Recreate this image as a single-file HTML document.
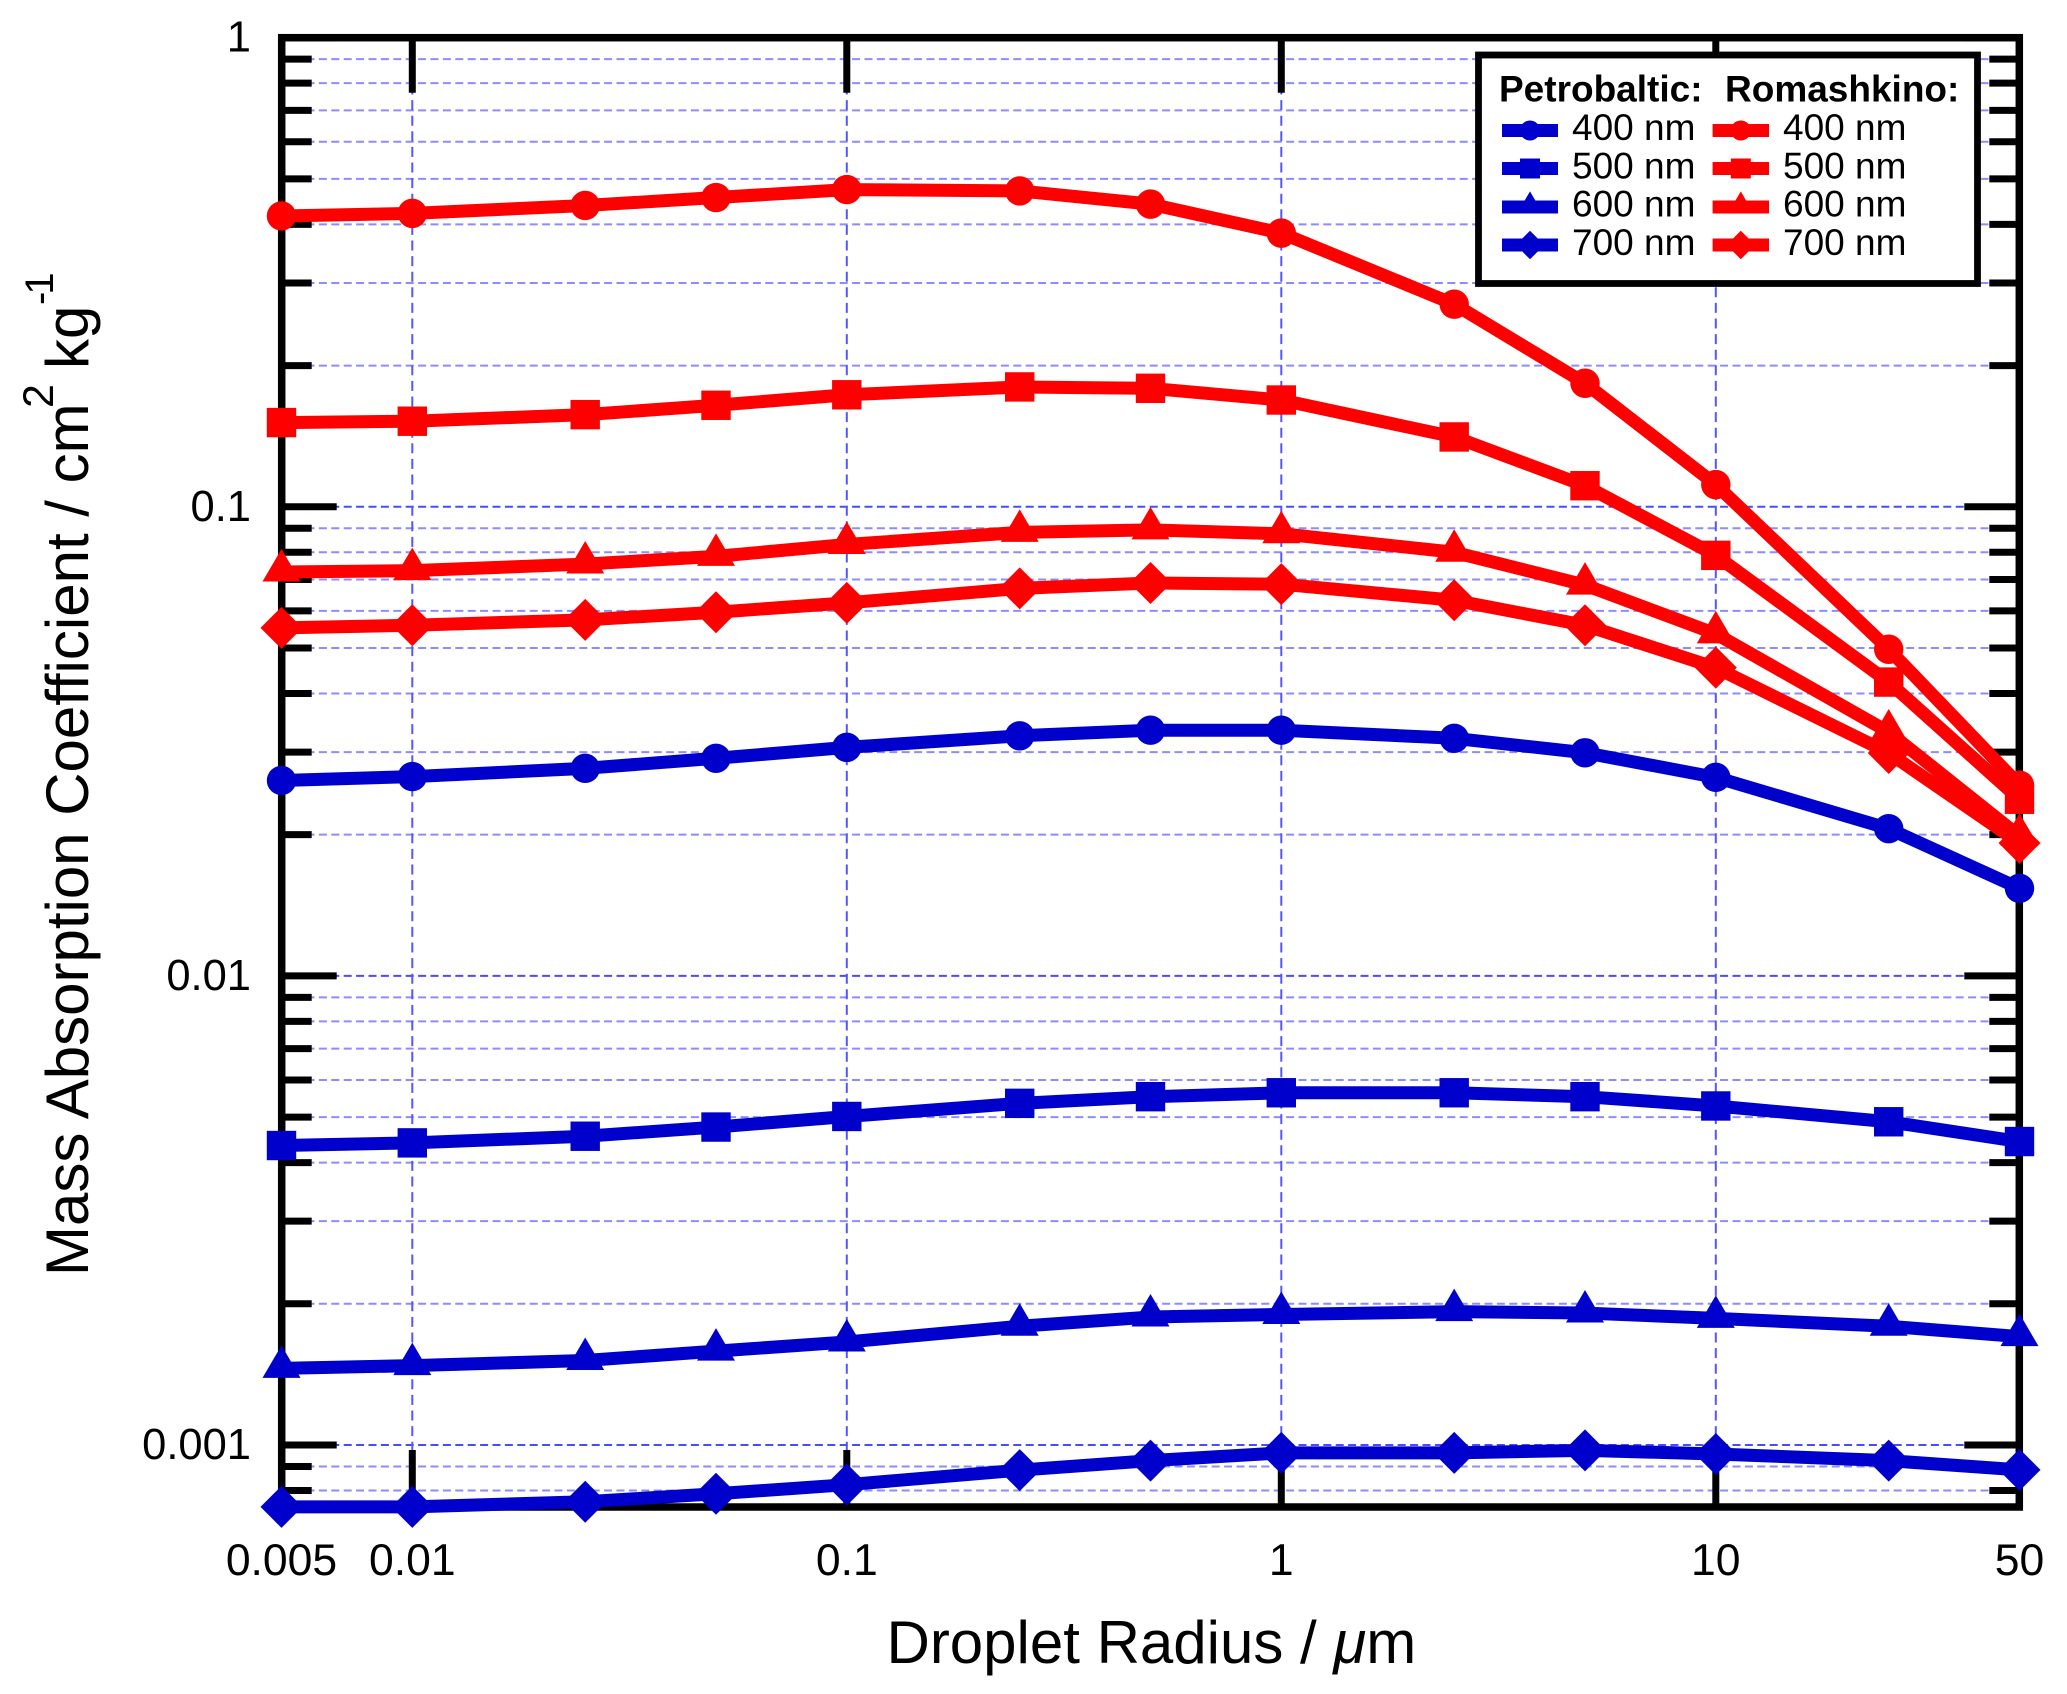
<!DOCTYPE html>
<html lang="en">
<head>
<meta charset="utf-8">
<title>Mass Absorption Coefficient vs Droplet Radius</title>
<style>
html,body{margin:0;padding:0;background:#fff;}
svg{display:block;}
text{font-family:"Liberation Sans",sans-serif;fill:#000;}
</style>
</head>
<body>
<svg id="chart" xmlns="http://www.w3.org/2000/svg" width="2067" height="1694" viewBox="0 0 2067 1694">
<rect x="0" y="0" width="2067" height="1694" fill="#fff"/>
<g id="grid"></g>
<g id="ticks"></g>
<rect x="281.7" y="37.7" width="1737.6" height="1469.3" fill="none" stroke="#000" stroke-width="7.5"/>
<g id="tick-labels" font-size="44.5"></g>
<text x="886.5" y="1663" font-size="60">Droplet Radius / <tspan font-style="italic">μ</tspan>m</text>
<text transform="translate(88,1276) rotate(-90)" font-size="60">Mass Absorption Coefficient / cm<tspan x="868" y="-35" font-size="43">2</tspan><tspan x="907" y="0">kg</tspan><tspan x="971" y="-35" font-size="40" letter-spacing="-3">-1</tspan></text>
<g id="series-layer"></g>
<g id="legend">
<rect x="1478.5" y="55" width="499" height="228.5" fill="#fff" stroke="#000" stroke-width="6.8"/>
<text x="1499" y="101.5" font-size="37" font-weight="bold">Petrobaltic:</text>
<text x="1725" y="101.5" font-size="37" font-weight="bold">Romashkino:</text>
<g id="legend-entries"></g>
</g>
</svg>
<script>
var radii = [0.005, 0.01, 0.025, 0.05, 0.1, 0.25, 0.5, 1, 2.5, 5, 10, 25, 50];

var petrobaltic400 = [0.0261, 0.0266, 0.0277, 0.0291, 0.0307, 0.0325, 0.0334, 0.0334, 0.0321, 0.0299, 0.0265, 0.0206, 0.01537];
var petrobaltic500 = [0.004349, 0.004406, 0.004552, 0.004762, 0.005016, 0.00535, 0.005527, 0.005635, 0.005635, 0.005527, 0.005281, 0.004887, 0.004435];
var petrobaltic600 = [0.001457, 0.001476, 0.001514, 0.001585, 0.001658, 0.001791, 0.001874, 0.001898, 0.001924, 0.001911, 0.001862, 0.001791, 0.001702];
var petrobaltic700 = [0.000738, 0.000738, 0.000757, 0.000787, 0.000823, 0.000884, 0.000926, 0.000962, 0.000962, 0.000974, 0.000957, 0.000926, 0.000885];
var romashkino400 = [0.4169, 0.4222, 0.4389, 0.4563, 0.4745, 0.4714, 0.4418, 0.3832, 0.2703, 0.1834, 0.1115, 0.0497, 0.0255];
var romashkino500 = [0.1512, 0.1522, 0.1572, 0.1646, 0.1733, 0.1801, 0.1789, 0.1689, 0.1409, 0.1109, 0.0788, 0.0423, 0.0238];
var romashkino600 = [0.0726, 0.0731, 0.0755, 0.0784, 0.0831, 0.0882, 0.0893, 0.0876, 0.08, 0.0681, 0.0536, 0.0331, 0.01985];
var romashkino700 = [0.0552, 0.0559, 0.0574, 0.0596, 0.0624, 0.067, 0.0688, 0.0684, 0.0632, 0.0559, 0.0454, 0.02987, 0.0192];

var xGridValues = [0.01, 0.1, 1, 10];
var xTickLabels = ["0.005", "0.01", "0.1", "1", "10", "50"];
var yMajorValues = [1, 0.1, 0.01, 0.001];
var yTickLabels = ["1", "0.1", "0.01", "0.001"];
var yMinorValues = [0.9, 0.8, 0.7, 0.6, 0.5, 0.4, 0.3, 0.2,
  0.09, 0.08, 0.07, 0.06, 0.05, 0.04, 0.03, 0.02,
  0.009, 0.008, 0.007, 0.006, 0.005, 0.004, 0.003, 0.002,
  0.0009, 0.0008];

var wavelengths = ["400 nm", "500 nm", "600 nm", "700 nm"];

var NS = "http://www.w3.org/2000/svg";
var LEFT = 281.7, RIGHT = 2019.3, TOP = 37.7, BOTTOM = 1507;
var X_DECADE = 434.5, Y_DECADE = 469.1;
var BLUE = "#0000cc", RED = "#ff0000";

function xScale(v) { return 412.3 + X_DECADE * (Math.log10(v) + 2); }
function yScale(v) { return TOP - Y_DECADE * Math.log10(v); }

function make(tag, attrs, parent) {
  var el = document.createElementNS(NS, tag);
  for (var k in attrs) { el.setAttribute(k, attrs[k]); }
  parent.appendChild(el);
  return el;
}

function drawMarker(parent, shape, x, y, color, s) {
  var el;
  if (shape === "circle") {
    el = make("circle", { cx: x, cy: y, r: 14.7 * s, fill: color }, parent);
  } else if (shape === "square") {
    el = make("rect", { x: x - 14.7 * s, y: y - 14.7 * s, width: 29.4 * s, height: 29.4 * s, fill: color }, parent);
  } else if (shape === "triangle") {
    el = make("polygon", { points: x + "," + (y - 23 * s) + " " + (x + 19 * s) + "," + (y + 9.5 * s) + " " + (x - 19 * s) + "," + (y + 9.5 * s), fill: color }, parent);
  } else {
    el = make("polygon", { points: x + "," + (y - 21 * s) + " " + (x + 21 * s) + "," + y + " " + x + "," + (y + 21 * s) + " " + (x - 21 * s) + "," + y, fill: color }, parent);
  }
  return el;
}

var gridG = document.getElementById("grid");
var ticksG = document.getElementById("ticks");
var labelsG = document.getElementById("tick-labels");

yMinorValues.forEach(function (v) {
  var y = yScale(v);
  var g = make("line", { x1: LEFT, x2: RIGHT, y1: y, y2: y, stroke: "#8c8cff", "stroke-width": 2, "stroke-dasharray": "8 4.4" }, gridG);
  
  
  var t1 = make("line", { x1: LEFT, x2: LEFT + 30, y1: y, y2: y, stroke: "#000", "stroke-width": 7 }, ticksG);
  
  
  var t2 = make("line", { x1: RIGHT - 30, x2: RIGHT, y1: y, y2: y, stroke: "#000", "stroke-width": 7 }, ticksG);
  
  
});

yMajorValues.forEach(function (v, i) {
  var y = yScale(v);
  var g = make("line", { x1: LEFT, x2: RIGHT, y1: y, y2: y, stroke: "#4a4aff", "stroke-width": 2, "stroke-dasharray": "8 4.4" }, gridG);
  
  
  var t1 = make("line", { x1: LEFT, x2: LEFT + 55, y1: y, y2: y, stroke: "#000", "stroke-width": 7 }, ticksG);
  
  
  var t2 = make("line", { x1: RIGHT - 55, x2: RIGHT, y1: y, y2: y, stroke: "#000", "stroke-width": 7 }, ticksG);
  
  
  var lab = make("text", { x: 251, y: y + 14, "text-anchor": "end", "font-size": 43.5 }, labelsG);
  
  
  lab.textContent = yTickLabels[i];
});

xGridValues.forEach(function (v) {
  var x = xScale(v);
  var g = make("line", { x1: x, x2: x, y1: TOP, y2: BOTTOM, stroke: "#5555ff", "stroke-width": 2, "stroke-dasharray": "10 5.6" }, gridG);
  
  
  var t1 = make("line", { x1: x, x2: x, y1: TOP, y2: TOP + 55, stroke: "#000", "stroke-width": 7 }, ticksG);
  
  
  var t2 = make("line", { x1: x, x2: x, y1: BOTTOM - 57, y2: BOTTOM, stroke: "#000", "stroke-width": 7 }, ticksG);
  
  
});

xTickLabels.forEach(function (label) {
  var lab = make("text", { x: xScale(parseFloat(label)), y: 1575, "text-anchor": "middle" }, labelsG);
  
  
  lab.textContent = label;
});

var seriesList = [
  { id: "petrobaltic-400", values: petrobaltic400, color: BLUE, shape: "circle" },
  { id: "petrobaltic-500", values: petrobaltic500, color: BLUE, shape: "square" },
  { id: "petrobaltic-600", values: petrobaltic600, color: BLUE, shape: "triangle" },
  { id: "petrobaltic-700", values: petrobaltic700, color: BLUE, shape: "diamond" },
  { id: "romashkino-400", values: romashkino400, color: RED, shape: "circle" },
  { id: "romashkino-500", values: romashkino500, color: RED, shape: "square" },
  { id: "romashkino-600", values: romashkino600, color: RED, shape: "triangle" },
  { id: "romashkino-700", values: romashkino700, color: RED, shape: "diamond" }
];

var seriesLayer = document.getElementById("series-layer");
seriesList.forEach(function (s) {
  var g = make("g", {}, seriesLayer);
  
  
  var pts = s.values.map(function (v, i) { return xScale(radii[i]).toFixed(2) + "," + yScale(v).toFixed(2); }).join(" ");
  var line = make("polyline", { points: pts, fill: "none", stroke: s.color, "stroke-width": 13, "stroke-linejoin": "round" }, g);
  
  
  s.values.forEach(function (v, i) {
    var m = drawMarker(g, s.shape, xScale(radii[i]), yScale(v), s.color, 1);
    
    
  });
});

var legendRoot = document.getElementById("legend-entries");
var legendRowsY = [130.5, 168.5, 207, 245];
var legendBaselines = [140, 178.5, 216.5, 255];
var legendShapes = ["circle", "square", "triangle", "diamond"];
[{ name: "petrobaltic", color: BLUE, x1: 1502, x2: 1558, tx: 1572 },
 { name: "romashkino", color: RED, x1: 1712.6, x2: 1769, tx: 1783 }].forEach(function (col) {
  wavelengths.forEach(function (w, i) {
    var g = make("g", {}, legendRoot);
    
    
    var y = legendRowsY[i];
    var l = make("line", { x1: col.x1, x2: col.x2, y1: y, y2: y, stroke: col.color, "stroke-width": 13 }, g);
    
    
    var m = drawMarker(g, legendShapes[i], (col.x1 + col.x2) / 2, y, col.color, 0.68);
    
    
    var t = make("text", { x: col.tx, y: legendBaselines[i], "font-size": 37 }, g);
    
    
    t.textContent = w;
  });
});
</script>
</body>
</html>
